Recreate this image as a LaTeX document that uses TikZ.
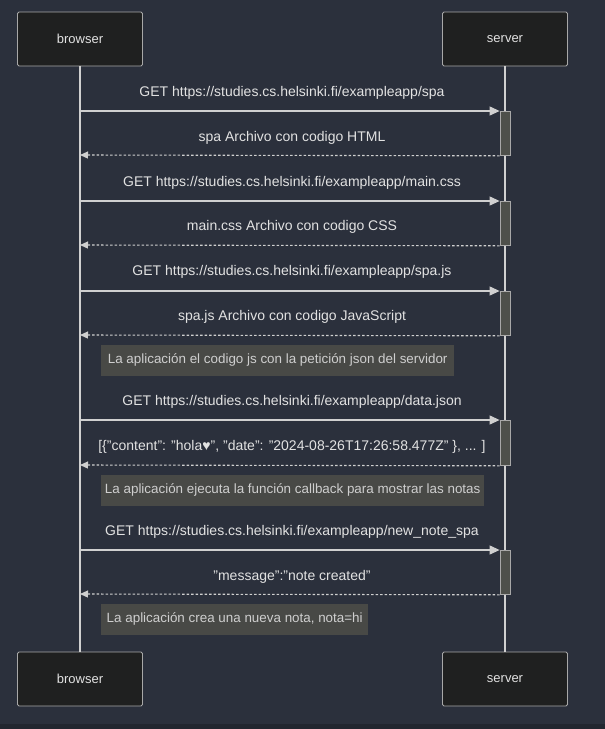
\documentclass[tikz,border=0pt]{standalone}
\usepackage{fontspec}
\setmainfont{Liberation Sans}
\usetikzlibrary{arrows.meta}
\definecolor{fondo}{HTML}{2B303C}
\definecolor{franja}{HTML}{22262F}
\definecolor{cajanegra}{HTML}{1F2020}
\definecolor{bordegris}{HTML}{A8A8A8}
\definecolor{linea}{HTML}{D0D0D0}
\definecolor{textoclaro}{HTML}{E2E2E2}
\definecolor{notagris}{HTML}{484946}
\definecolor{textonota}{HTML}{CFCFCF}
\definecolor{activgris}{HTML}{4E504B}
\tikzset{
  actor/.style={draw=bordegris, fill=cajanegra, rounded corners=1.5pt, line width=0.8pt,
    minimum width=125pt, minimum height=54pt, text=textoclaro, font=\fontsize{13}{15}\selectfont},
  msg/.style={text=textoclaro, yshift=-1.5pt, font=\fontsize{14}{16}\selectfont},
  nota/.style={fill=notagris, text=textonota, anchor=west, minimum height=31pt,
    inner xsep=3pt, font=\fontsize{13.4}{16}\selectfont},
  activ/.style={draw=bordegris, fill=activgris, minimum width=10pt, inner sep=0pt, anchor=north, line width=0.8pt},
  ida/.style={draw=linea, line width=1.1pt, -{Triangle[length=10pt,width=9pt]}},
  vuelta/.style={draw=linea, line width=1.1pt, dash pattern=on 2.5pt off 2pt, -{Triangle[length=8pt,width=7pt]}}
}
\begin{document}
\begin{tikzpicture}[x=1pt,y=-1pt]
\useasboundingbox (0,0) rectangle (605,729);
\fill[fondo] (0,0) rectangle (605,724);
\fill[franja] (0,724) rectangle (605,729);
% actores
\node[actor] (b0) at (80,39) {browser};
\node[actor] (s0) at (505,39) {server};
\node[actor] (b9) at (80,679) {browser};
\node[actor] (s9) at (505,679) {server};
\draw[linea, line width=1.1pt] (b0) -- (b9);
\draw[linea, line width=1.1pt] (s0) -- (s9);
% activaciones
\foreach \n/\y/\h in {1/111/44,2/201/44,3/291/44,4/420/45,5/550/44}
{
\node[activ, minimum height=\h pt] (a\n) at (505,\y) {};
\coordinate (p\n) at (80,\y);
\coordinate (q\n) at (80,\y+\h);
\draw[ida] (p\n) -- (a\n.north west);
\draw[vuelta] (a\n.south west) -- (q\n);
}
% mensajes
\node[msg] (m1) at (292,91) {GET https://studies.cs.helsinki.fi/exampleapp/spa};
\node[msg] (r1) at (292,136) {spa Archivo con codigo HTML};
\node[msg] (m2) at (292,181) {GET https://studies.cs.helsinki.fi/exampleapp/main.css};
\node[msg] (r2) at (292,225) {main.css Archivo con codigo CSS};
\node[msg] (m3) at (292,270) {GET https://studies.cs.helsinki.fi/exampleapp/spa.js};
\node[msg] (r3) at (292,315) {spa.js Archivo con codigo JavaScript};
\node[msg] (m4) at (292,400) {GET https://studies.cs.helsinki.fi/exampleapp/data.json};
\node[msg] (r4) at (292,445) {[\{"content": "hola♥", "date": "2024-08-26T17:26:58.477Z" \}, ... ]};
\node[msg] (m5) at (292,530) {GET https://studies.cs.helsinki.fi/exampleapp/new\_note\_spa};
\node[msg] (r5) at (292,575) {"message":"note created"};
% notas
\node[nota, minimum width=353pt] (n1) at (101,360) {La aplicación el codigo js con la petición json del servidor};
\node[nota, minimum width=383pt] (n2) at (101,490) {La aplicación ejecuta la función callback para mostrar las notas};
\node[nota, minimum width=267pt] (n3) at (101,619) {La aplicación crea una nueva nota, nota=hi};
\end{tikzpicture}
\end{document}
